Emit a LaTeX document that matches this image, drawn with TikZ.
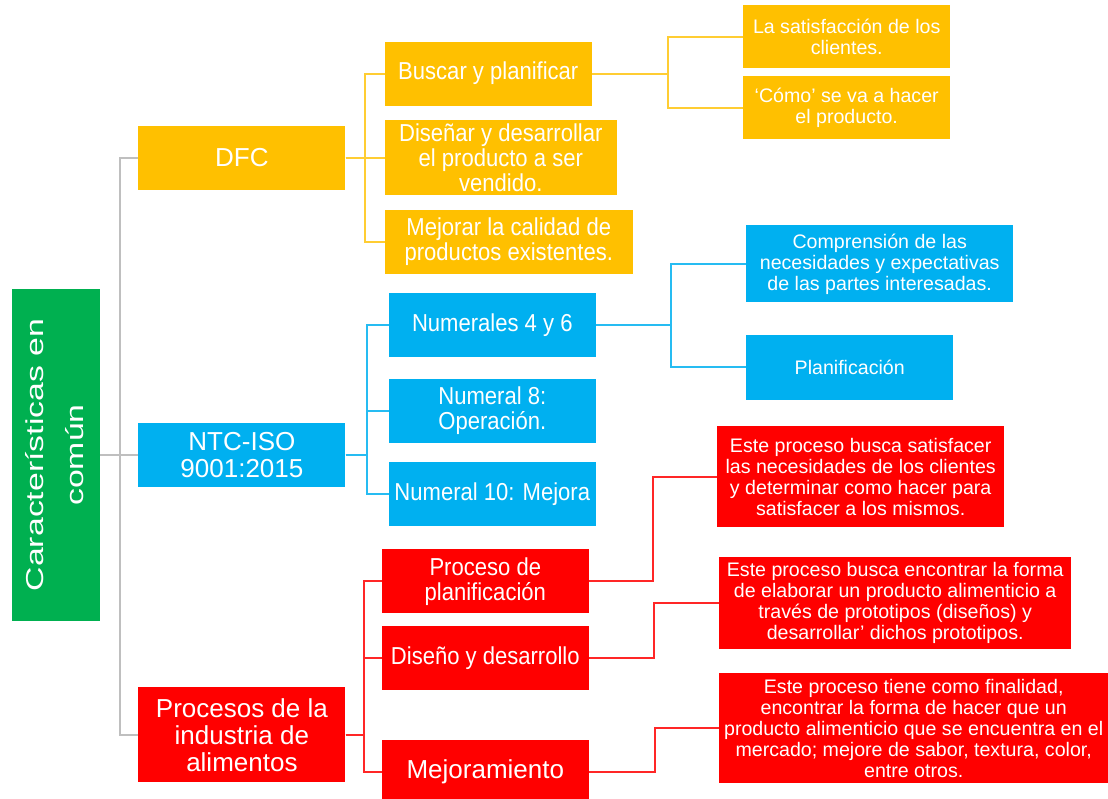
\documentclass[tikz,border=0pt]{standalone}
\usepackage{graphicx}
\usepackage{fontspec}
\setmainfont{Liberation Sans}
\newfontfamily\widefont[FakeStretch=1.38]{Liberation Sans}
\newfontfamily\narrowfont[FakeStretch=0.9]{Liberation Sans}
\usetikzlibrary{positioning}
\definecolor{rootgreen}{HTML}{00B050}
\definecolor{dfcorange}{HTML}{FFC000}
\definecolor{isoblue}{HTML}{00B0F0}
\definecolor{procred}{HTML}{FF0000}
\definecolor{trunkgrey}{HTML}{BFBFBF}
\tikzset{
    cbox/.style={
        inner sep=0pt,
        text=white,
        align=center},
    rootbox/.style={
        cbox,
        fill=rootgreen,
        minimum width=88pt,
        minimum height=331pt,
        font=\widefont\fontsize{24.5pt}{40pt}\selectfont},
    topbox/.style={
        cbox,
        fill=#1,
        minimum width=207pt,
        minimum height=64pt,
        font=\fontsize{26pt}{27pt}\selectfont},
    midbox/.style={
        cbox,
        fill=#1,
        minimum width=207pt,
        minimum height=64pt,
        font=\narrowfont\fontsize{24.5pt}{25pt}\selectfont},
    leafbox/.style={
        cbox,
        fill=#1,
        minimum width=207pt,
        minimum height=63pt,
        font=\fontsize{19.6pt}{21pt}\selectfont},
    trunk/.style={
        draw=trunkgrey,
        line width=2pt},
    conn/.style={
        draw=#1,
        line width=2pt}}

\begin{document}
\begin{tikzpicture}
        \useasboundingbox (-56pt,-343pt) rectangle (1052pt,455pt);

        \node[rootbox] (root) {\rotatebox{90}{\begin{tabular}{@{}c@{}}Características en\\común\end{tabular}}};
        \node[topbox=isoblue,right=38pt of root] (ntc) {NTC-ISO\\9001:2015};
        \node[topbox=dfcorange,above=233pt of ntc] (dfc) {DFC};
        \node[topbox=procred,below=200pt of ntc,minimum height=95pt] (proc) {Procesos de la\\industria de\\alimentos};

        \node[midbox=dfcorange,right=39pt of dfc,yshift=84pt] (buscar) {Buscar y planificar};
        \node[midbox=dfcorange,right=39pt of dfc,minimum width=232pt,minimum height=75pt] (disenar) {Diseñar y desarrollar\\el producto a ser\\vendido.};
        \node[midbox=dfcorange,right=39pt of dfc,yshift=-84pt,minimum width=248pt] (mejorar) {Mejorar la calidad de\\productos existentes.};

        \node[midbox=isoblue,right=43pt of ntc,yshift=130pt] (num46) {Numerales 4 y 6};
        \node[midbox=isoblue,right=43pt of ntc,yshift=44.5pt] (num8) {Numeral 8:\\Operación.};
        \node[midbox=isoblue,right=43pt of ntc,yshift=-39pt] (num10) {Numeral 10: Mejora};

        \node[midbox=procred,right=36pt of proc,yshift=153.5pt] (planif) {Proceso de\\planificación};
        \node[midbox=procred,right=36pt of proc,yshift=77pt] (diseno) {Diseño y desarrollo};
        \node[midbox=procred,right=36pt of proc,yshift=-37pt,font=\fontsize{26pt}{27pt}\selectfont] (mejora) {Mejoramiento};

        \node[leafbox=dfcorange,right=151pt of buscar,yshift=37pt] (satisf) {La satisfacción de los\\clientes.};
        \node[leafbox=dfcorange,right=151pt of buscar,yshift=-34pt] (como) {‘Cómo’ se va a hacer\\el producto.};
        \node[leafbox=isoblue,right=150pt of num46,yshift=61pt,minimum width=267pt,minimum height=77pt] (compren) {Comprensión de las\\necesidades y expectativas\\de las partes interesadas.};
        \node[leafbox=isoblue,right=150pt of num46,yshift=-42.5pt,minimum height=64pt] (planblue) {Planificación};
        \node[leafbox=procred,right=128pt of planif,yshift=104.5pt,minimum width=287pt,minimum height=101pt] (rtxt1) {Este proceso busca satisfacer\\las necesidades de los clientes\\y determinar como hacer para\\satisfacer a los mismos.};
        \node[leafbox=procred,right=130pt of diseno,yshift=54.5pt,minimum width=352pt,minimum height=92pt] (rtxt2) {Este proceso busca encontrar la forma\\de elaborar un producto alimenticio a\\través de prototipos (diseños) y\\desarrollar’ dichos prototipos.};
        \node[leafbox=procred,right=130pt of mejora,yshift=43.5pt,minimum width=389pt,minimum height=110pt] (rtxt3) {Este proceso tiene como finalidad,\\encontrar la forma de hacer que un\\producto alimenticio que se encuentra en el\\mercado; mejore de sabor, textura, color,\\entre otros.};

        \draw[trunk] (root) -- (ntc);
        \draw[trunk] (root.east) -- ++(20pt,0) |- (dfc.west);
        \draw[trunk] (root.east) -- ++(20pt,0) |- (proc.west);

        \draw[conn=dfcorange!80] (dfc.east) -- ++(19.5pt,0) |- (buscar.west);
        \draw[conn=dfcorange!80] (dfc) -- (disenar);
        \draw[conn=dfcorange!80] (dfc.east) -- ++(19.5pt,0) |- (mejorar.west);
        \draw[conn=dfcorange!80] (buscar.east) -- ++(76pt,0) |- (satisf.west);
        \draw[conn=dfcorange!80] (buscar.east) -- ++(76pt,0) |- (como.west);

        \draw[conn=isoblue!85] (ntc.east) -- ++(21pt,0) |- (num46.west);
        \draw[conn=isoblue!85] (ntc.east) -- ++(21pt,0) |- (num8.west);
        \draw[conn=isoblue!85] (ntc.east) -- ++(21pt,0) |- (num10.west);
        \draw[conn=isoblue!85] (num46.east) -- ++(75pt,0) |- (compren.west);
        \draw[conn=isoblue!85] (num46.east) -- ++(75pt,0) |- (planblue.west);

        \draw[conn=procred!85] (proc.east) -- ++(18pt,0) |- (planif.west);
        \draw[conn=procred!85] (proc.east) -- ++(18pt,0) |- (diseno.west);
        \draw[conn=procred!85] (proc.east) -- ++(18pt,0) |- (mejora.west);
        \draw[conn=procred!85] (planif.east) -- ++(64pt,0) |- (rtxt1.west);
        \draw[conn=procred!85] (diseno.east) -- ++(65pt,0) |- (rtxt2.west);
        \draw[conn=procred!85] (mejora.east) -- ++(66pt,0) |- (rtxt3.west);
    \end{tikzpicture}
\end{document}
